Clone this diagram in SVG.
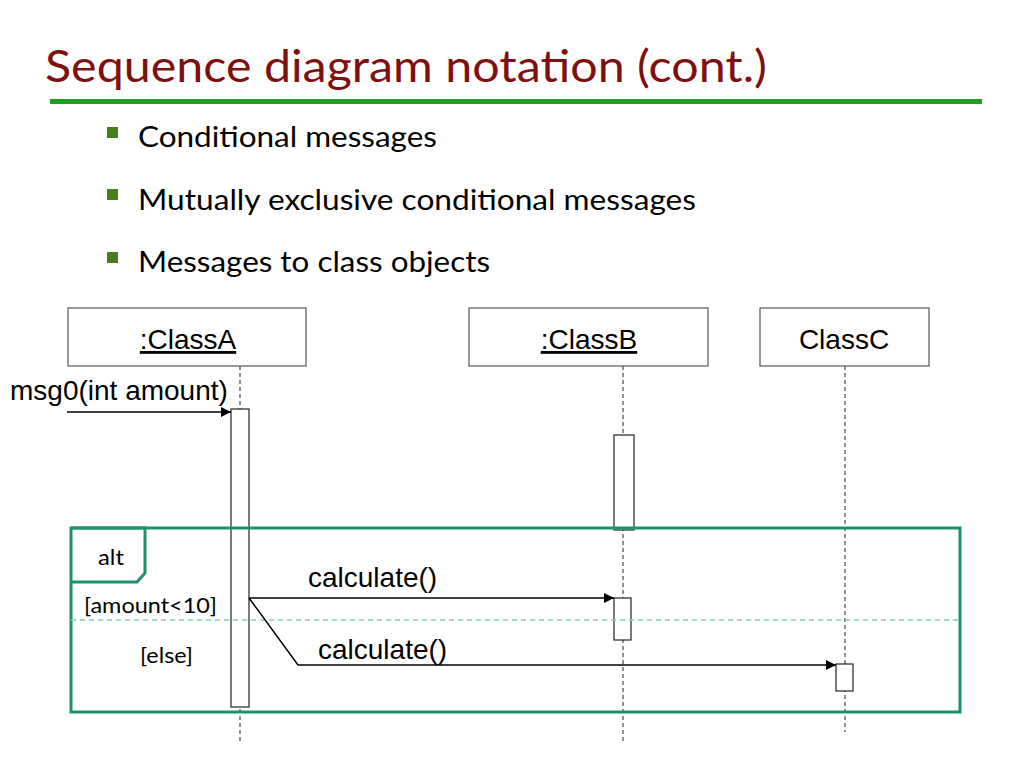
<svg xmlns="http://www.w3.org/2000/svg" width="1024" height="768" viewBox="0 0 1024 768">
<defs>
<marker id="arr" viewBox="0 0 10 10" refX="10" refY="5" markerWidth="12" markerHeight="10" markerUnits="userSpaceOnUse" orient="auto">
<path d="M0,0 L10,5 L0,10 Z" fill="#000"/>
</marker>
</defs>
<style>
.obj{fill:#fff;stroke:#555;stroke-width:1.2}
.lbl{font-family:"Liberation Sans",Arial,sans-serif;font-size:28px;fill:#000}
.cal{font-family:Lato,"Open Sans",sans-serif;fill:#000}
.life{stroke:#555;stroke-width:1.3;stroke-dasharray:4,3;fill:none}
.act{fill:#fff;stroke:#222;stroke-width:1.2}
.msg{stroke:#000;stroke-width:1.5;fill:none}
.bul{fill:#4a7d1e}
</style>
<rect width="1024" height="768" fill="#fff"/>
<text x="45" y="82" font-family="Lato,'Open Sans',sans-serif" font-size="44" fill="#7f1010" textLength="722" lengthAdjust="spacingAndGlyphs">Sequence diagram notation (cont.)</text>
<rect x="50" y="99" width="932" height="5" fill="#1e9e1e"/>
<g id="bullets">
<rect class="bul" x="107" y="127" width="11" height="11"/>
<text class="cal" x="138" y="147" font-size="28" textLength="299" lengthAdjust="spacingAndGlyphs">Conditional messages</text>
<rect class="bul" x="107" y="189" width="11" height="11"/>
<text class="cal" x="138" y="210" font-size="28" textLength="558" lengthAdjust="spacingAndGlyphs">Mutually exclusive conditional messages</text>
<rect class="bul" x="107" y="252" width="11" height="11"/>
<text class="cal" x="138" y="272" font-size="28" textLength="352" lengthAdjust="spacingAndGlyphs">Messages to class objects</text>
</g>
<g id="lifelines">
<line class="life" x1="240" y1="366" x2="240" y2="742"/>
<line class="life" x1="623" y1="366" x2="623" y2="742"/>
<line class="life" x1="845" y1="366" x2="845" y2="732"/>
</g>
<g id="classA">
<rect class="obj" x="68" y="308" width="238" height="58"/>
<text class="lbl" x="188" y="349" text-anchor="middle" text-decoration="underline">:ClassA</text>
</g>
<g id="classB">
<rect class="obj" x="469" y="308" width="239" height="58"/>
<text class="lbl" x="589" y="349" text-anchor="middle" text-decoration="underline">:ClassB</text>
</g>
<g id="classC">
<rect class="obj" x="760" y="308" width="169" height="58"/>
<text class="lbl" x="844" y="349" text-anchor="middle">ClassC</text>
</g>
<g id="activations">
<rect class="act" x="231" y="409" width="18" height="298"/>
<rect class="act" x="614" y="435" width="20" height="95"/>
<rect class="act" x="614" y="598" width="17" height="42"/>
<rect class="act" x="836" y="664" width="17" height="27"/>
</g>
<g id="altFrame">
<rect x="71" y="528" width="889" height="184" fill="none" stroke="#1f8f6f" stroke-width="3"/>
<path d="M71,528 H145 V573 L137,582 H71" fill="none" stroke="#1f8f6f" stroke-width="3"/>
<text class="cal" x="98" y="565" font-size="21" textLength="26" lengthAdjust="spacingAndGlyphs">alt</text>
<line x1="71" y1="620" x2="960" y2="620" stroke="#7fcfbd" stroke-width="1.3" stroke-dasharray="5,4"/>
<text class="cal" x="84" y="613" font-size="22" textLength="133" lengthAdjust="spacingAndGlyphs">[amount&lt;10]</text>
<text class="cal" x="140" y="663" font-size="22" textLength="53" lengthAdjust="spacingAndGlyphs">[else]</text>
</g>
<g id="connectors">
<line class="msg" x1="67" y1="412" x2="231" y2="412" marker-end="url(#arr)"/>
<line class="msg" x1="249" y1="598" x2="614" y2="598" marker-end="url(#arr)" stroke-width="2"/>
<polyline class="msg" points="249,598 298,665 836,665" marker-end="url(#arr)"/>
</g>
<g id="msgLabels">
<text class="lbl" x="10" y="400">msg0(int amount)</text>
<text class="lbl" x="308" y="587">calculate()</text>
<text class="lbl" x="318" y="659">calculate()</text>
</g>
</svg>
